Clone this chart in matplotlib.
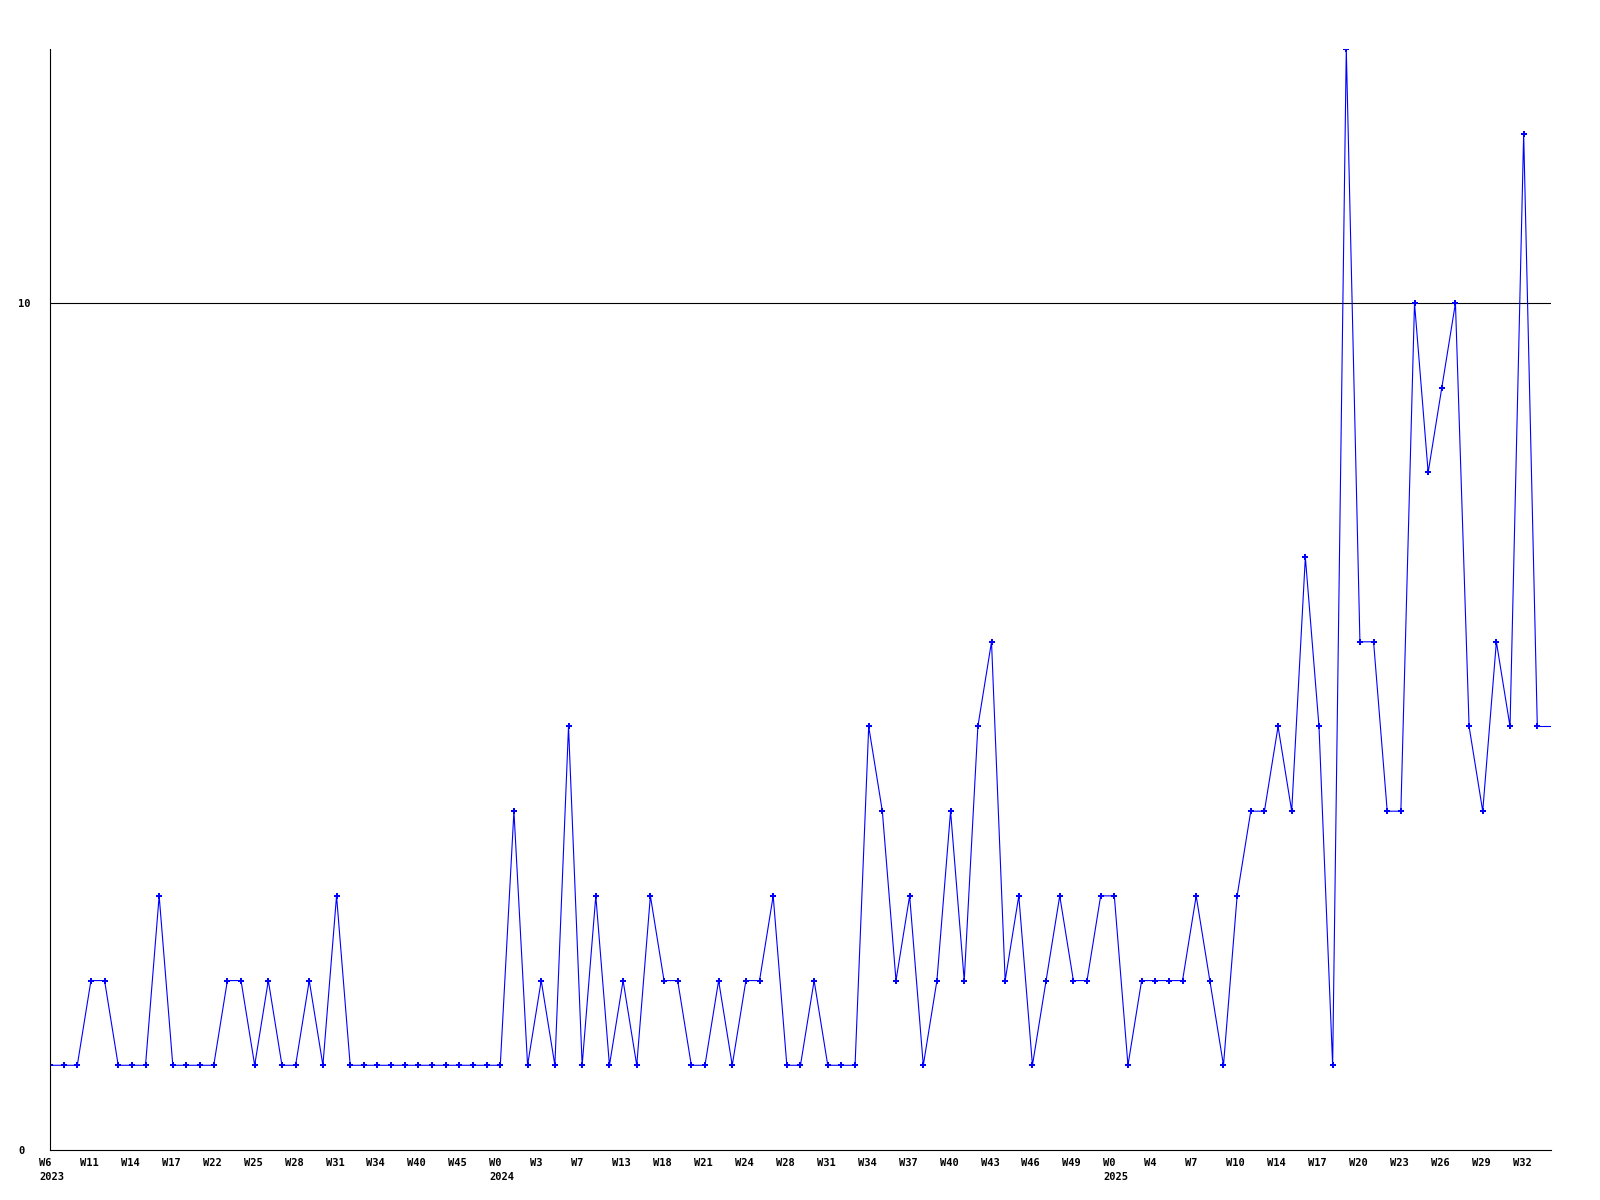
import matplotlib
matplotlib.use("Agg")
import matplotlib.pyplot as plt
import matplotlib.transforms as mtransforms

# valores por período (um ponto por posição do eixo x)
counts = [
    1, 1, 1, 2, 2, 1, 1, 1, 3, 1, 1, 1, 1, 2, 2, 1, 2, 1, 1, 2, 1, 3,
    1, 1, 1, 1, 1, 1, 1, 1, 1, 1, 1, 1,
    4, 1, 2, 1, 5, 1, 3, 1, 2, 1, 3, 2, 2, 1, 1, 2, 1, 2, 2, 3, 1, 1,
    2, 1, 1, 1, 5, 4, 2, 3, 1, 2, 4, 2, 5, 6, 2, 3, 1, 2, 3, 2, 2, 3,
    3, 1, 2, 2, 2, 2, 3, 2, 1, 3, 4, 4, 5, 4, 7, 5, 1, 13, 6, 6, 4, 4,
    10, 8, 9, 10, 5, 4, 6, 5, 12, 5, 5,
]

# rótulos do eixo x, um a cada 3 pontos
week_labels = [
    "W6", "W11", "W14", "W17", "W22", "W25", "W28", "W31", "W34", "W40",
    "W45", "W0", "W3", "W7", "W13", "W18", "W21", "W24", "W28", "W31",
    "W34", "W37", "W40", "W43", "W46", "W49", "W0", "W4", "W7", "W10",
    "W14", "W17", "W20", "W23", "W26", "W29", "W32",
]
year_labels = {0: "2023", 11: "2024", 26: "2025"}
label_step = 3

y_ticks = [0, 10]

fig = plt.figure(figsize=(16, 12), dpi=100)
ax = fig.add_axes([0.03125, 0.0417, 0.9381, 0.9175])

xs = list(range(len(counts)))
ax.plot(xs, counts, color="#0000ff", linewidth=0.8,
        marker="P", markersize=4, markeredgewidth=0,
        markevery=list(range(len(counts) - 1)))

ax.axhline(10, color="black", linewidth=0.8, zorder=0)

ax.set_xlim(0, len(counts) - 1)
ax.set_ylim(0, 13)

for side in ["top", "right"]:
    ax.spines[side].set_visible(False)
for side in ["left", "bottom"]:
    ax.spines[side].set_linewidth(0.8)

font = dict(family="DejaVu Sans Mono", weight="bold", size=7.5)

tick_pos = [i * label_step for i in range(len(week_labels))]
tick_txt = []
for i, w in enumerate(week_labels):
    if i in year_labels:
        tick_txt.append(w + "\n" + year_labels[i])
    else:
        tick_txt.append(w)
ax.set_xticks(tick_pos)
ax.set_xticklabels(tick_txt, ha="left", linespacing=1.45, **font)
ax.tick_params(axis="x", length=0, pad=6)
shift = mtransforms.ScaledTranslation(-11 / 100, 0, fig.dpi_scale_trans)
for lab in ax.get_xticklabels():
    lab.set_transform(lab.get_transform() + shift)

ax.set_yticks(y_ticks)
ax.set_yticklabels([str(v) for v in y_ticks], ha="left", **font)
ax.tick_params(axis="y", length=0, pad=23)

fig.savefig("out.png", dpi=100)
